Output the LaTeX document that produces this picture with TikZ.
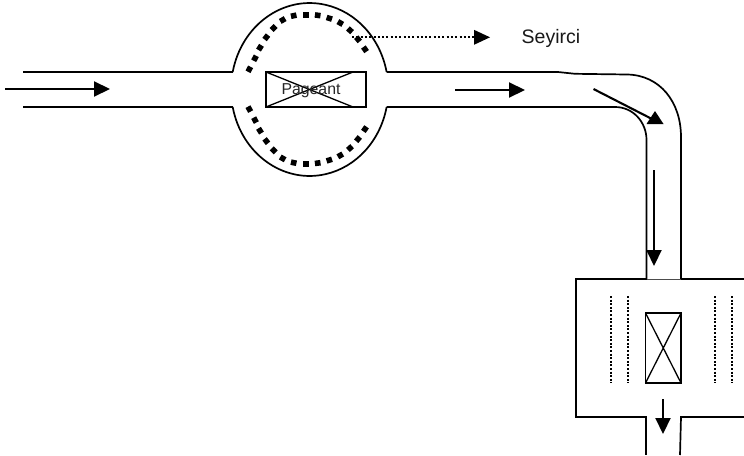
\documentclass[tikz,border=0pt]{standalone}
\usepackage{fontspec}
\setmainfont{Liberation Sans}
\usetikzlibrary{arrows.meta}
\tikzset{
  wall/.style={line width=1.7pt,line join=miter},
  thinwall/.style={line width=0.6pt,black!70},
  flow/.style={line width=2.1pt,-{Triangle[length=16pt,width=15pt]}},
  dotline/.style={line width=1.9pt,dash pattern=on 1.9pt off 1.7pt},
  sightline/.style={line width=2pt,dash pattern=on 2pt off 2.3pt},
  outline/.style={line width=1.8pt},
  seatdot/.style={fill=black}
}
\begin{document}
\begin{tikzpicture}[x=1pt,y=-1pt]
\useasboundingbox (0,0) rectangle (744,455);
\fill[white] (0,0) rectangle (744,455);
% left road
\coordinate (lt0) at (23,72); \coordinate (lt1) at (232.7,72);
\coordinate (lb0) at (23,107); \coordinate (lb1) at (232.7,107);
\draw[wall] (lt0) -- (lt1);
\draw[wall] (lb0) -- (lb1);
% oval
\draw[wall] (lt1) arc[start angle=168.3,end angle=11.7,x radius=78.6pt,y radius=86.5pt] coordinate (rt0);
\draw[wall] (lb1) arc[start angle=191.7,end angle=348.3,x radius=78.6pt,y radius=86.5pt] coordinate (rb0);
% seats
\foreach \px/\py/\a in {249.3/69.3/62,255/58.3/62,260/47.7/58,266.3/37.3/52,273.7/28/45,282.7/20/30,293.7/15.7/12,306/14.7/0,317.7/15.3/-8,329.3/18.3/-18,340.3/23/-30,350/30.3/-42,358/39.3/-50,365/49.3/-55}{
  \fill[seatdot,shift={(\px,\py)},rotate=\a] (-2.8pt,-2.8pt) rectangle (2.8pt,2.8pt);
  \pgfmathsetmacro{\my}{178.4-\py}
  \fill[seatdot,shift={(\px,\my)},rotate=-\a] (-2.8pt,-2.8pt) rectangle (2.8pt,2.8pt);
}
% pageant
\coordinate (pa) at (266,72); \coordinate (pb) at (366,72);
\coordinate (pc) at (366,107); \coordinate (pd) at (266,107);
\coordinate (pe) at (353,72); \coordinate (pf) at (353,107);
\draw[outline] (pa) -- (pb) -- (pc) -- (pd) -- cycle;
\draw[line width=1.3pt] (pa) -- (pf) (pd) -- (pe);
\node[inner sep=0pt,font=\fontsize{15.8}{15.8}\selectfont,text=black!85] (pageant) at (311,91) {Pageant};
% road to the corner
\coordinate (ot1) at (558,72); \coordinate (ot2) at (575,73.8); \coordinate (ot3) at (627,74.5);
\coordinate (ot4) at (681,137); \coordinate (ot5) at (681,279);
\draw[wall] (rt0) -- (ot1) -- (ot2) -- (ot3) .. controls (660,75) and (681,102) .. (ot4) -- (ot5);
\coordinate (ib1) at (577,107); \coordinate (ib2) at (615,107);
\coordinate (ib3) at (646.5,140); \coordinate (ib4) at (646.5,279);
\draw[wall] (rb0) -- (ib1) -- (ib2) .. controls (633,107) and (646.5,122) .. (ib3) -- (ib4);
% lower hall
\coordinate (ha) at (576,279); \coordinate (hb) at (576,417);
\coordinate (hc) at (646,417); \coordinate (hd) at (646,455);
\coordinate (he) at (681,417); \coordinate (hf) at (680,455);
\coordinate (hg) at (744,279); \coordinate (hh) at (744,417);
\draw[wall] (ib4) -- (ha) -- (hb) -- (hc) -- (hd);
\draw[wall] (ot5) -- (hg);
\draw[wall] (hf) -- (he) -- (hh);
\draw[thinwall] (ib4) -- (ot5);
% inner stage
\coordinate (sa) at (645.5,313); \coordinate (sb) at (681,313);
\coordinate (sc) at (681,383); \coordinate (sd) at (645.5,383);
\draw[outline] (sa) -- (sb) -- (sc) -- (sd) -- cycle;
\draw[line width=1.3pt] (sa) -- (sc) (sb) -- (sd);
% audience lines
\foreach \n/\px in {a/611,b/628,c/715,d/732}{
  \coordinate (v\n0) at (\px,296); \coordinate (v\n1) at (\px,383);
  \draw[dotline] (v\n0) -- (v\n1);
}
% arrows
\coordinate (a1s) at (5,89); \coordinate (a1e) at (110,89);
\draw[flow] (a1s) -- (a1e);
\coordinate (a2s) at (455,90); \coordinate (a2e) at (525,90);
\draw[flow] (a2s) -- (a2e);
\coordinate (a3s) at (654,170); \coordinate (a3e) at (654,266);
\draw[flow] (a3s) -- (a3e);
\coordinate (a4s) at (663,399); \coordinate (a4e) at (663,434);
\draw[flow] (a4s) -- (a4e);
\coordinate (d1) at (593.5,89); \coordinate (d2) at (652,119);
\draw[line width=2.1pt] (d1) -- (d2);
\coordinate (t1) at (655,111); \coordinate (t2) at (646.5,124); \coordinate (t3) at (663.5,124);
\fill (t1) -- (t2) -- (t3) -- cycle;
% spectator arrow
\coordinate (s1) at (352,37.3); \coordinate (s2) at (476,37.3); \coordinate (s3) at (490,37.3);
\draw[sightline] (s1) -- (s2);
\fill (s3) -- (474,29.8) -- (474,44.8) -- cycle;
\node[inner sep=0pt,anchor=base west,font=\fontsize{19.5}{19.5}\selectfont,text=black!90] (seyirci) at (521.5,43.5) {Seyirci};
\end{tikzpicture}
\end{document}
